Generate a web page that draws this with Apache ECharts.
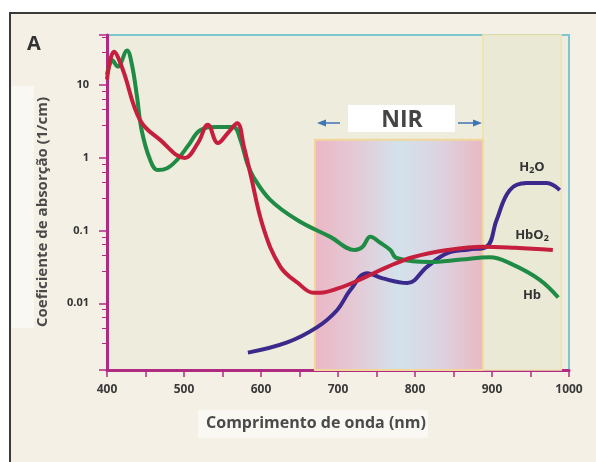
<!DOCTYPE html>
<html>
<head>
<meta charset="utf-8">
<script src="https://cdn.jsdelivr.net/npm/echarts@6/dist/echarts.min.js"></script>
<style>
html,body{margin:0;padding:0;background:#ffffff;}
#c{width:596px;height:462px;}
</style>
</head>
<body>
<div id="c"></div>
<script>
// ---- data (wavelength nm, absorption coefficient 1/cm) ----
var hbo2Wl  = [400, 409, 420, 443, 469, 501, 518, 531, 544, 557, 569, 578, 586, 603, 625, 648, 668, 677, 700, 732, 765, 797, 842, 888, 930, 979];
var hbo2Val = [12, 28.8, 17, 3.3, 1.77, 1.0, 1.6, 2.85, 1.6, 2.2, 3.0, 1.4, 0.62, 0.11, 0.032, 0.019, 0.014, 0.014, 0.016, 0.022, 0.032, 0.043, 0.054, 0.06, 0.058, 0.054];

var hbWl  = [400, 407, 414, 426, 432, 439, 445, 456, 466, 478, 491, 506, 521, 543, 564, 573, 582, 590, 612, 647, 690, 722, 732, 742, 755, 768, 776, 819, 860, 897, 927, 962, 986];
var hbVal = [14, 22, 18, 30, 20, 6.9, 2.4, 0.94, 0.68, 0.72, 0.94, 1.5, 2.4, 2.67, 2.67, 1.8, 0.85, 0.55, 0.265, 0.14, 0.082, 0.054, 0.06, 0.082, 0.068, 0.054, 0.042, 0.037, 0.04, 0.043, 0.034, 0.021, 0.012];

var h2oWl  = [583, 634, 673, 699, 716, 738, 758, 790, 816, 842, 870, 893, 906, 923, 945, 971, 988];
var h2oVal = [0.0021, 0.0029, 0.0047, 0.0081, 0.0152, 0.026, 0.022, 0.019, 0.032, 0.049, 0.055, 0.06, 0.14, 0.36, 0.45, 0.45, 0.36];

var xTicks = [400, 500, 600, 700, 800, 900, 1000];
var yTickLabels = [0.01, 0.1, 1, 10];
var nirRange = [670, 888];
var nirTop = 1.77;
var rightZone = [888, 990];
var yMin = 0.00121, yMax = 49;

function pairs(xs, ys){ return xs.map(function(x,i){ return [x, ys[i]]; }); }

var chart = echarts.init(document.getElementById('c'), null, {renderer:'canvas'});
var axisColor = '#b02a82';
var font = '"Open Sans", "Noto Sans", sans-serif';

var option = {
  animation: false,
  backgroundColor: '#ffffff',
  grid: {left:107, right:27, top:35, bottom:92, show:true, backgroundColor:'#eeecdc', borderColor:'#7cc6cf', borderWidth:2},
  xAxis: {
    type:'value', min:400, max:1000, interval:50,
    axisLine:{lineStyle:{color:axisColor, width:3}},
    axisTick:{length:7, lineStyle:{color:axisColor, width:1.5}},
    splitLine:{show:false},
    axisLabel:{color:'#3a3a3a', fontWeight:'bold', fontSize:12, fontFamily:font, margin:14,
      formatter:function(v){ return xTicks.indexOf(v) >= 0 ? String(v) : ''; }}
  },
  yAxis: {
    type:'log', logBase:10, min:yMin, max:yMax,
    axisLine:{lineStyle:{color:axisColor, width:3}},
    axisTick:{length:8, lineStyle:{color:axisColor, width:1.5}},
    minorTick:{show:true, splitNumber:5, length:5, lineStyle:{color:axisColor, width:1}},
    splitLine:{show:false},
    axisLabel:{color:'#333', fontWeight:'bold', fontSize:11, fontFamily:font, margin:18, showMinLabel:false, showMaxLabel:false,
      formatter:function(v){
        for (var i=0;i<yTickLabels.length;i++){ if (Math.abs(v/yTickLabels[i]-1) < 1e-6) return String(yTickLabels[i]); }
        return '';
      }}
  },
  series: [
    {
      type:'line', name:'zones', data:[], silent:true, z:1,
      markArea:{silent:true, data:[
        [{xAxis:rightZone[0], yAxis:yMin, itemStyle:{color:'#e9e9d6', borderColor:'#f0e2b0', borderWidth:1.5}}, {xAxis:rightZone[1], yAxis:yMax}],
        [{xAxis:nirRange[0], yAxis:yMin, itemStyle:{
          color:{type:'linear', x:0, y:0, x2:1, y2:0, colorStops:[
            {offset:0, color:'#ebb6c4'}, {offset:0.25, color:'#e4cad6'}, {offset:0.5, color:'#d3e2ec'},
            {offset:0.75, color:'#ddd2e0'}, {offset:1, color:'#e9b8c2'}]},
          borderColor:'#f1d79a', borderWidth:2}}, {xAxis:nirRange[1], yAxis:nirTop}]
      ]}
    },
    {type:'line', name:'H2O', data:pairs(h2oWl, h2oVal), showSymbol:false, smooth:0.4,
      lineStyle:{color:'#3b2a8c', width:4}, z:3},
    {type:'line', name:'Hb', data:pairs(hbWl, hbVal), showSymbol:false, smooth:0.4,
      lineStyle:{color:'#1f8b45', width:4}, z:4},
    {type:'line', name:'HbO2', data:pairs(hbo2Wl, hbo2Val), showSymbol:false, smooth:0.4,
      lineStyle:{color:'#c51f3d', width:4}, z:5}
  ],
  graphic: [
    {type:'rect', z:-10, shape:{x:10, y:13, width:600, height:460}, style:{fill:'#f5f0e5', stroke:'#3a3a3a', lineWidth:2}},
    {type:'rect', z:-9, shape:{x:12, y:86, width:22, height:242}, style:{fill:'#faf8f3'}},
    {type:'rect', z:-9, shape:{x:198, y:410, width:230, height:28}, style:{fill:'#faf8f3'}},
    {type:'text', z:10, x:34, y:44, style:{text:'A', font:'bold 20px ' + font, fill:'#333', textAlign:'center', textVerticalAlign:'middle'}},
    {type:'text', z:10, x:43, y:212, rotation:Math.PI/2, style:{text:'Coeficiente de absorção (1/cm)', font:'bold 15px ' + font, fill:'#4a4a4a', textAlign:'center', textVerticalAlign:'middle'}},
    {type:'text', z:10, x:316, y:423, style:{text:'Comprimento de onda (nm)', font:'bold 16px ' + font, fill:'#4a4a4a', textAlign:'center', textVerticalAlign:'middle'}},
    // NIR label
    {type:'rect', z:10, shape:{x:348, y:105, width:107, height:27}, style:{fill:'#ffffff'}},
    {type:'text', z:11, x:402, y:120, style:{text:'NIR', font:'bold 23px ' + font, fill:'#444', textAlign:'center', textVerticalAlign:'middle'}},
    {type:'line', z:11, shape:{x1:324, y1:123, x2:340, y2:123}, style:{stroke:'#3f74b5', lineWidth:1.5}},
    {type:'polygon', z:11, shape:{points:[[317,123],[326,119.5],[326,126.5]]}, style:{fill:'#3f74b5'}},
    {type:'line', z:11, shape:{x1:458, y1:123, x2:475, y2:123}, style:{stroke:'#3f74b5', lineWidth:1.5}},
    {type:'polygon', z:11, shape:{points:[[482,123],[473,119.5],[473,126.5]]}, style:{fill:'#3f74b5'}},
    // curve labels
    {type:'text', z:11, x:532, y:167, style:{rich:{a:{font:'bold 13px ' + font, fill:'#333'}, s:{font:'bold 9px ' + font, fill:'#333', padding:[7,0,0,0]}}, text:'{a|H}{s|2}{a|O}', textAlign:'center', textVerticalAlign:'middle'}},
    {type:'text', z:11, x:532, y:235, style:{rich:{a:{font:'bold 13px ' + font, fill:'#333'}, s:{font:'bold 9px ' + font, fill:'#333', padding:[7,0,0,0]}}, text:'{a|HbO}{s|2}', textAlign:'center', textVerticalAlign:'middle'}},
    {type:'text', z:11, x:532, y:295, style:{text:'Hb', font:'bold 13px ' + font, fill:'#333', textAlign:'center', textVerticalAlign:'middle'}}
  ]
};
chart.setOption(option);
</script>
</body>
</html>
